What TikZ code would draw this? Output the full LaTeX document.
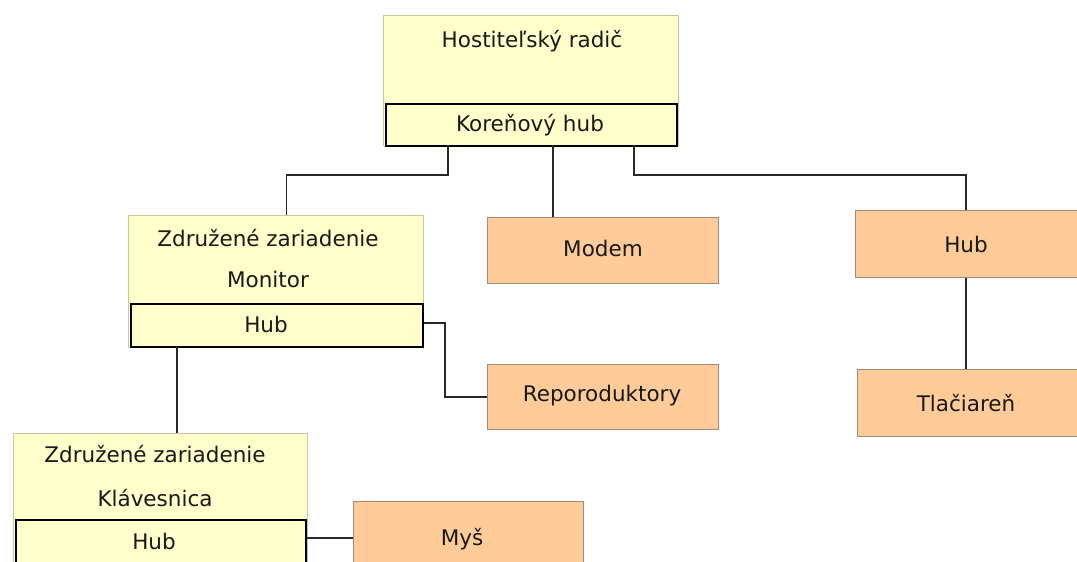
\documentclass[tikz,border=0pt]{standalone}
\usepackage{fontspec}
\setmainfont{DejaVu Sans}
\usetikzlibrary{calc}
\definecolor{ylw}{RGB}{255,255,204}
\definecolor{ylwline}{RGB}{200,200,160}
\definecolor{org}{RGB}{255,204,153}
\definecolor{orgline}{RGB}{160,140,120}
\definecolor{wire}{RGB}{40,40,40}
\begin{document}
\begin{tikzpicture}[x=1pt,y=-1pt,
  every node/.style={font=\fontsize{21.5}{25}\selectfont, inner sep=0pt, text=black!90},
  yellowbox/.style={rectangle, draw=ylwline, line width=1pt, fill=ylw, anchor=north west},
  hubbox/.style={rectangle, draw=black, line width=1.6pt, fill=ylw, anchor=north west},
  orangebox/.style={rectangle, draw=orgline, line width=1pt, fill=org, anchor=north west},
  lbl/.style={anchor=center, text height=15.5pt, text depth=0pt},
  wirestyle/.style={draw=wire, line width=1.5pt}]
\useasboundingbox (0,0) rectangle (1077,562);
\fill[white] (0,0) rectangle (1077,562);

% Root controller
\node[yellowbox, minimum width=295pt, minimum height=130pt] (host) at (383,15) {};
\node[lbl] (hostt) at (532,40) {Hostiteľský radič};
\node[hubbox, minimum width=291pt, minimum height=42pt] (roothub) at (385,103) {};
\node[lbl] (roothubt) at (530,124) {Koreňový hub};

% Monitor
\node[yellowbox, minimum width=295pt, minimum height=132pt] (monitor) at (128,215) {};
\node[lbl] (monitort1) at (268,239) {Združené zariadenie};
\node[lbl] (monitort2) at (268,280) {Monitor};
\node[hubbox, minimum width=292pt, minimum height=43pt] (monhub) at (130,303) {};
\node[lbl] (monhubt) at (266,325) {Hub};

% Keyboard
\node[yellowbox, minimum width=294pt, minimum height=140pt] (kbd) at (13,433) {};
\node[lbl] (kbdt1) at (155,455) {Združené zariadenie};
\node[lbl] (kbdt2) at (155,499) {Klávesnica};
\node[hubbox, minimum width=290pt, minimum height=50pt] (kbdhub) at (15,519) {};
\node[lbl] (kbdhubt) at (154,542) {Hub};

% Orange devices
\node[orangebox, minimum width=231pt, minimum height=66pt] (modem) at (487,217) {};
\node[lbl] (modemt) at (603,249) {Modem};
\node[orangebox, minimum width=231pt, minimum height=65pt] (repro) at (487,364) {};
\node[lbl] (reprot) at (602,394) {Reporoduktory};
\node[orangebox, minimum width=225pt, minimum height=67pt] (hubr) at (855,210) {};
\node[lbl] (hubrt) at (966,245) {Hub};
\node[orangebox, minimum width=223pt, minimum height=67pt] (printer) at (857,369) {};
\node[lbl] (printert) at (966,404) {Tlačiareň};
\node[orangebox, minimum width=230pt, minimum height=70pt] (mouse) at (353,501) {};
\node[lbl] (mouset) at (462,538) {Myš};

% Connector points
\coordinate (r1) at (448,145);
\coordinate (r2) at (553,145);
\coordinate (r3) at (634,145);
\coordinate (m1) at (177,346);

% Connectors
\draw[wirestyle] (r1) -- ++(0,30) -| ([xshift=10.5pt]monitor.north);
\draw[wirestyle] (r2) -- (modem.north -| r2);
\draw[wirestyle] (r3) -- ++(0,30) -| (hubr.north -| hubrt);
\draw[wirestyle] (hubr.south -| hubrt) -- (printer.north -| hubrt);
\draw[wirestyle] (monhub.east |- 0,323) -- (445,323) |- (repro.west);
\draw[wirestyle] (m1) -- (kbd.north -| m1);
\draw[wirestyle] (kbdhub.east |- 0,538) -- (mouse.west |- 0,538);
\end{tikzpicture}
\end{document}
